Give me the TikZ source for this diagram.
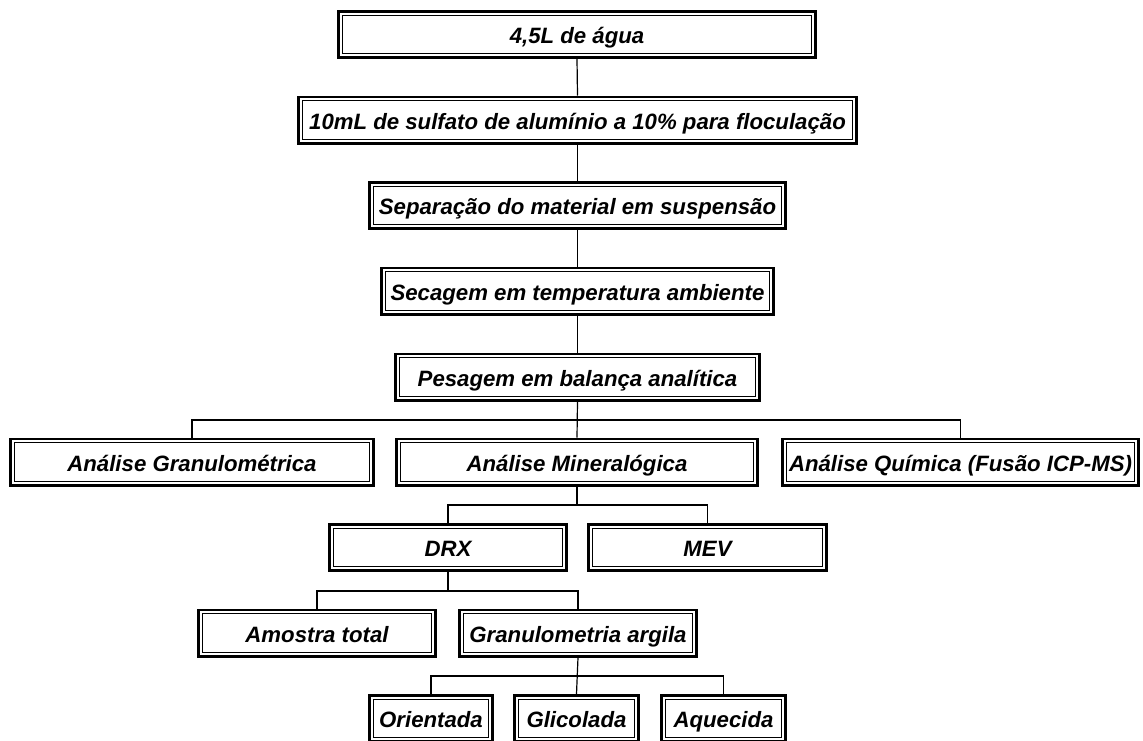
\documentclass[tikz,border=0pt]{standalone}
\usepackage{fontspec}
\setmainfont{Liberation Sans}
\tikzset{
  pbox/.style={draw, line width=2.7pt, fill=white, minimum height=46.3pt, inner sep=0pt,
    text height=18.5pt, text depth=0pt,
    font=\fontsize{22.2}{24}\selectfont\bfseries\itshape,
    path picture={\draw[line width=0.9pt] ([shift={(3.8pt,-3.8pt)}]path picture bounding box.north west) rectangle ([shift={(-3.8pt,3.8pt)}]path picture bounding box.south east);}},
  conn/.style={line width=1.2pt}
}
\begin{document}
\begin{tikzpicture}[x=1pt,y=-1pt]
\useasboundingbox (0,0) rectangle (1143,740);
\clip (0,0) rectangle (1143,740);
% nodes
\node[pbox, minimum width=477.3pt] (b1) at (577,34.5) {4,5L de água};
\node[pbox, minimum width=558.3pt] (b2) at (577.5,120) {10mL de sulfato de alumínio a 10\% para floculação};
\node[pbox, minimum width=416.3pt] (b3) at (577.5,205.5) {Separação do material em suspensão};
\node[pbox, minimum width=392.3pt] (b4) at (577.5,291) {Secagem em temperatura ambiente};
\node[pbox, minimum width=364.3pt] (b5) at (577.5,377) {Pesagem em balança analítica};
\node[pbox, minimum width=363.3pt] (gran) at (192,462) {Análise Granulométrica};
\node[pbox, minimum width=361.3pt] (mine) at (577,462) {Análise Mineralógica};
\node[pbox, minimum width=356.3pt] (quim) at (960.5,462) {Análise Química (Fusão ICP-MS)};
\node[pbox, minimum width=237.3pt] (drx) at (448,547.5) {DRX};
\node[pbox, minimum width=238.3pt] (mev) at (707.5,547.5) {MEV};
\node[pbox, minimum width=237.3pt] (amo) at (317,633) {Amostra total};
\node[pbox, minimum width=237.3pt] (garg) at (578,633) {Granulometria argila};
\node[pbox, minimum width=123.3pt] (ori) at (431,718.5) {Orientada};
\node[pbox, minimum width=124.3pt] (gli) at (576.5,718.5) {Glicolada};
\node[pbox, minimum width=124.3pt] (aqu) at (723.5,718.5) {Aquecida};
% junctions
\coordinate (j1) at (577,420);
\coordinate (j2) at (577,505);
\coordinate (j3) at (448,591);
\coordinate (j4) at (577,676);
% connectors
\draw[conn] (b1.south) -- (b2.north);
\draw[conn] (b2.south) -- (b3.north);
\draw[conn] (b3.south) -- (b4.north);
\draw[conn] (b4.south) -- (b5.north);
\draw[conn] (b5.south) -- (mine.north);
\draw[conn] (gran.north) |- (j1) -| (quim.north);
\draw[conn] (mine.south) -- (j2);
\draw[conn] (drx.north) |- (j2) -| (mev.north);
\draw[conn] (drx.south) -- (j3);
\draw[conn] (amo.north) |- (j3) -| (garg.north);
\draw[conn] (garg.south) -- (gli.north);
\draw[conn] (ori.north) |- (j4) -| (aqu.north);
\end{tikzpicture}
\end{document}
